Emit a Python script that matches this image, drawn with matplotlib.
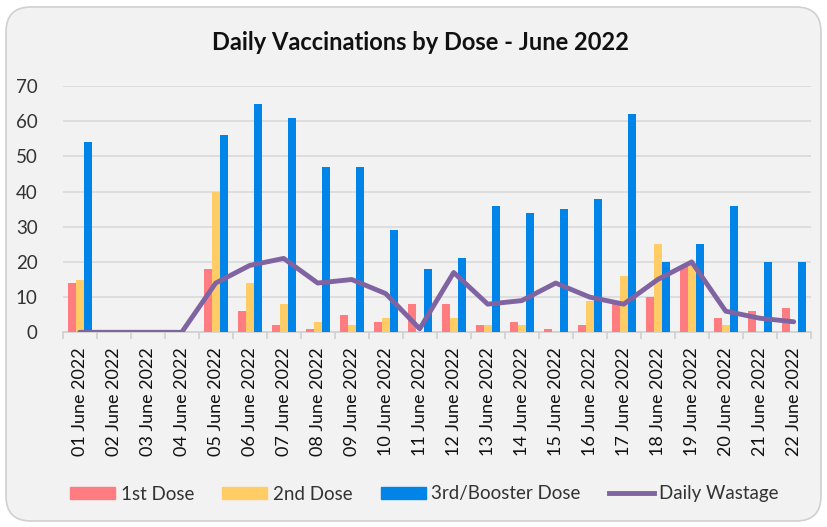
import matplotlib.pyplot as plt
import numpy as np
from matplotlib.patches import FancyBboxPatch
from matplotlib.lines import Line2D
from matplotlib.patches import Patch

# ---------- Data ---------------------
days = [f"{d:02d} June 2022" for d in range(1, 23)]
dose1 = [14, 0, 0, 0, 18, 6, 2, 1, 5, 3, 8, 8, 2, 3, 1, 2, 8, 10, 19, 4, 6, 7]
dose2 = [15, 0, 0, 0, 40, 14, 8, 3, 2, 4, 0, 4, 2, 2, 0, 9, 16, 25, 19, 2, 0, 0]
booster = [54, 0, 0, 0, 56, 65, 61, 47, 47, 29, 18, 21, 36, 34, 35, 38, 62, 20, 25, 36, 20, 20]
wastage = [0, 0, 0, 0, 14, 19, 21, 14, 15, 11, 1, 17, 8, 9, 14, 10, 8, 15, 20, 6, 4, 3]

c_red = '#ff7c80'
c_yel = '#ffcc66'
c_blue = '#0084e8'
c_purp = '#8064a2'
font = 'Lato'

plt.rcParams['font.family'] = [font, 'DejaVu Sans']

fig = plt.figure(figsize=(8.28, 5.27), dpi=100)
fig.patch.set_facecolor('white')

# rounded chart frame
frame = FancyBboxPatch((6 / 828, 6 / 527), 815 / 828, 514 / 527,
                       boxstyle='round,pad=0,rounding_size=0.03',
                       transform=fig.transFigure, facecolor='#f2f2f2',
                       edgecolor='#d0d0d0', linewidth=1.2, mutation_aspect=828 / 527,
                       zorder=-5)
fig.patches.append(frame)

ax = fig.add_axes([62.7 / 828, 1 - 332.3 / 527, 748 / 828, 246.3 / 527])
ax.set_facecolor('none')
ax.set_zorder(2)

x = np.arange(len(days))
w = 0.235
ax.bar(x - w, dose1, w, color=c_red, zorder=3)
ax.bar(x, dose2, w, color=c_yel, zorder=3)
ax.bar(x + w, booster, w, color=c_blue, zorder=3)
ax.plot(x, wastage, color=c_purp, linewidth=3.5, solid_capstyle='round',
        solid_joinstyle='round', zorder=4)

ax.set_xlim(-0.5, len(days) - 0.5)
ax.set_ylim(0, 70)
ax.set_yticks(range(0, 71, 10))
ax.yaxis.grid(True, color='#d9d9d9', linewidth=1.2, zorder=0)
ax.set_axisbelow(True)
for s in ['top', 'right', 'left']:
    ax.spines[s].set_visible(False)
ax.spines['bottom'].set_color('#d0d0d0')
ax.spines['bottom'].set_linewidth(1.2)

ax.set_xticks(x)
ax.set_xticklabels(days, rotation=90, fontsize=13, color='#111111')
ax.set_xticks(np.arange(-0.5, len(days), 1), minor=True)
ax.tick_params(axis='x', which='major', length=0, pad=11)
ax.tick_params(axis='x', which='minor', length=5, color='#d0d0d0', width=1.2)
ax.tick_params(axis='y', length=0, labelsize=13.5, labelcolor='#333333', pad=18)

fig.text(420.5 / 828, 1 - 42 / 527, 'Daily Vaccinations by Dose - June 2022',
         ha='center', va='center', fontsize=17, fontweight='bold', color='#111111')

handles = [Patch(color=c_red, label='1st Dose'),
           Patch(color=c_yel, label='2nd Dose'),
           Patch(color=c_blue, label='3rd/Booster Dose'),
           Line2D([0], [0], color=c_purp, linewidth=3.5, label='Daily Wastage')]
fig.legend(handles=handles, loc='center', bbox_to_anchor=(424.5 / 828, 1 - 494 / 527),
           ncol=4, frameon=False, fontsize=13.5, handlelength=2.4, handleheight=0.6,
           columnspacing=1.5, handletextpad=0.3, labelcolor='#333333')

fig.savefig('out.png', dpi=100, facecolor=fig.get_facecolor())
